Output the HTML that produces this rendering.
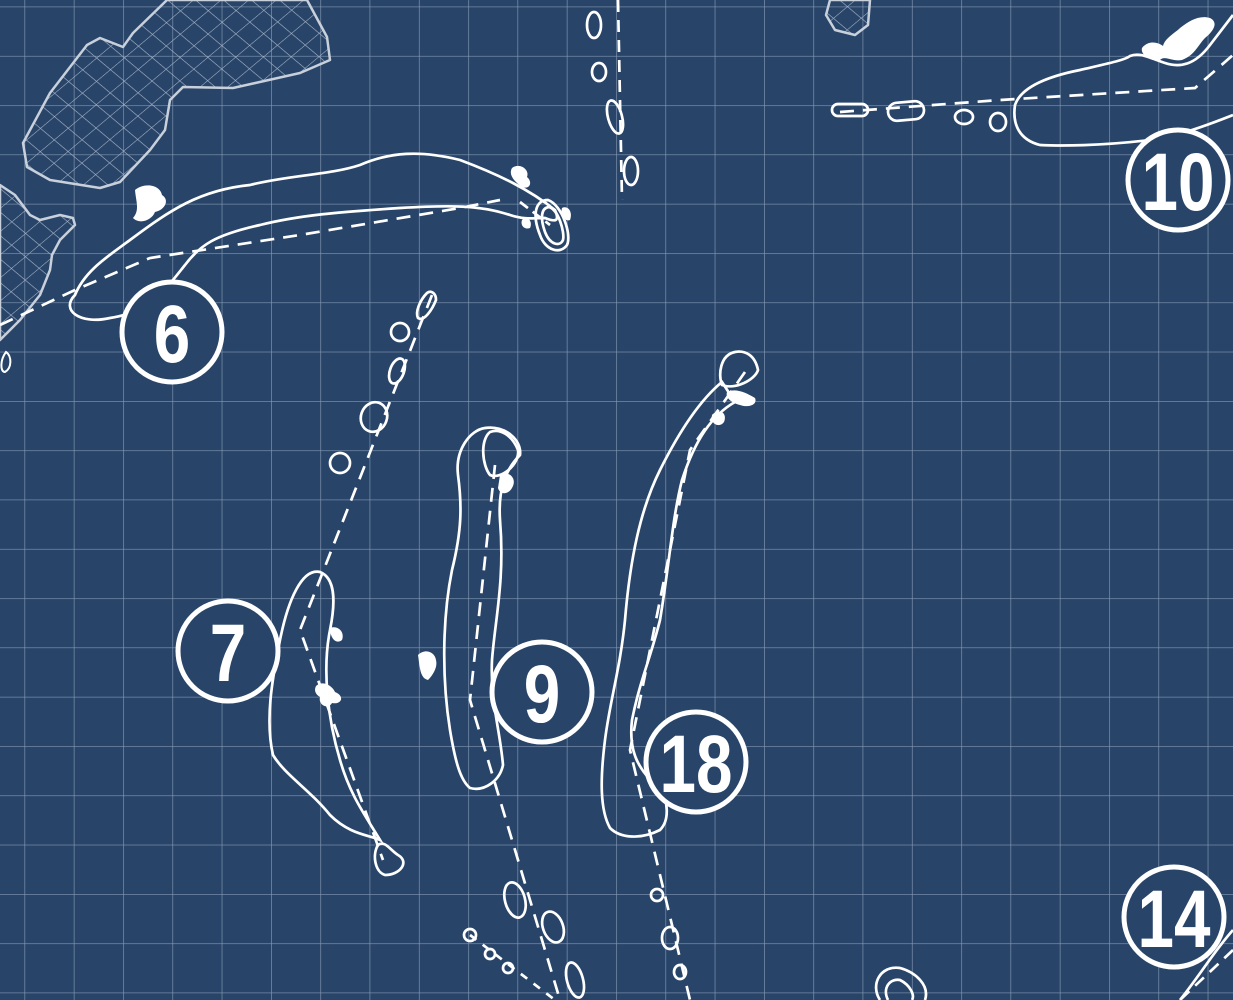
<!DOCTYPE html>
<html><head><style>
html,body{margin:0;padding:0;background:#284468;}
svg{display:block}
.num{font-family:"Liberation Sans Narrow","Liberation Sans",sans-serif;font-weight:bold;fill:#fff;text-anchor:middle}
</style></head><body>
<svg width="1233" height="1000" viewBox="0 0 1233 1000" xmlns="http://www.w3.org/2000/svg">
<defs>
<pattern id="grid" x="24.5" y="6.6" width="49.3" height="49.3" patternUnits="userSpaceOnUse">
<path d="M0 0H49.3M0 0V49.3" stroke="#8498b4" stroke-width="1.3" fill="none"/>
</pattern>
<pattern id="hatch" width="18" height="18" patternUnits="userSpaceOnUse" patternTransform="rotate(40) skewX(-10)">
<path d="M0 0H18M0 0V18" stroke="#a9b8cc" stroke-width="1.1" fill="none"/>
</pattern>
</defs>
<rect width="1233" height="1000" fill="#284468"/>
<rect width="1233" height="1000" fill="url(#grid)"/>

<g stroke="#c8d0dc" stroke-width="2.5" fill="url(#hatch)">
<path d="M167 0 L133 33 L123 47 L100 38 L87 45 L50 93 L23 143 L27 167 L50 180 L100 188 L120 182 L150 150 L165 130 L170 100 L183 87 L233 88 L300 73 L330 60 L327 37 L307 0 Z" stroke-linejoin="round"/>
<path d="M0 185 L15 195 L30 215 L40 220 L60 215 L73 218 L75 225 L60 240 L52 255 L50 270 L40 295 L20 320 L0 340 Z" stroke-linejoin="round"/>
<path d="M830 0 L870 0 L868 25 L855 35 L835 30 L826 15 Z" stroke-linejoin="round"/>
</g>

<g stroke="#fff" stroke-width="2.7" fill="none">
<!-- hole 6 -->
<path d="M75 295 C60 310 80 325 110 318 C150 312 165 290 185 265 C200 245 215 235 260 225 C300 215 340 212 400 208 C450 205 480 205 510 215 C525 220 535 218 545 218 C555 222 560 222 555 210 C530 190 500 175 460 160 C420 150 390 152 360 165 C330 175 290 175 250 185 C200 190 170 210 130 240 C110 255 85 270 75 295 Z"/>
<path d="M548 200 C535 200 532 215 540 235 C545 250 560 255 567 245 C572 235 562 205 548 200 Z"/>
<path d="M549 207 C541 208 540 218 545 232 C550 245 560 247 563 240 C565 232 558 209 549 207 Z"/>
<path d="M0 325 L75 290 L150 258 L300 235 L460 208 L500 200" stroke-dasharray="14 9"/>
<path d="M520 202 L550 225" stroke-dasharray="10 6"/>
<!-- top dashed line -->
<path d="M618 0 L622 200" stroke-dasharray="12 8"/>
<ellipse cx="594" cy="25" rx="7" ry="13"/>
<ellipse cx="599" cy="72" rx="7" ry="9"/>
<ellipse cx="615" cy="117" rx="7" ry="17" transform="rotate(-15 615 117)"/>
<ellipse cx="631" cy="171" rx="7" ry="14"/>
<!-- hole 10 -->
<path d="M1233 115 C1200 128 1180 135 1150 140 C1100 146 1060 146 1040 145 C1020 140 1012 125 1015 105 C1020 90 1040 78 1080 70 C1110 63 1125 60 1130 56 C1140 52 1150 58 1165 63 C1180 68 1195 65 1210 45 L1233 15"/>
<path d="M840 112 L1000 100 L1195 88 L1233 55" stroke-dasharray="14 9"/>
<rect x="832" y="104" width="36" height="12" rx="6"/>
<rect x="888" y="102" width="36" height="18" rx="9" transform="rotate(-5 906 111)"/>
<ellipse cx="964" cy="117" rx="9" ry="7"/>
<ellipse cx="998" cy="122" rx="8" ry="9"/>
<!-- hole 7 -->
<path d="M320 572 C335 578 336 600 330 630 C322 670 328 720 340 760 C350 795 365 815 380 840 C370 835 350 835 330 815 C310 790 285 775 273 755 C265 720 272 680 280 640 C288 600 302 568 320 572 Z"/>
<path d="M378 845 C372 855 375 872 385 875 C400 875 410 862 398 855 C390 850 385 840 378 845 Z"/>
<path d="M432 295 L300 630 L383 860" stroke-dasharray="14 9"/>
<path d="M427 293 C420 300 415 312 418 318 C424 322 432 310 436 300 C436 293 431 290 427 293 Z"/>
<circle cx="400" cy="332" r="9"/>
<ellipse cx="397" cy="371" rx="7" ry="13" transform="rotate(20 397 371)"/>
<ellipse cx="374" cy="417" rx="13" ry="15" transform="rotate(20 374 417)"/>
<circle cx="340" cy="463" r="10"/>
<!-- hole 9 -->
<path d="M485 428 C470 430 455 450 458 475 C462 505 462 530 452 570 C442 620 442 680 450 730 C455 760 460 780 470 788 C485 792 500 780 503 765 C500 730 490 700 492 660 C495 620 505 580 500 520 C498 490 505 470 520 455 C522 440 505 425 485 428 Z"/>
<path d="M490 432 C480 440 482 465 490 475 C500 480 520 465 518 450 C512 435 500 428 490 432 Z"/>
<path d="M495 465 L470 700 L560 1000" stroke-dasharray="14 9"/>
<ellipse cx="515" cy="900" rx="10" ry="18" transform="rotate(-15 515 900)"/>
<ellipse cx="553" cy="927" rx="10" ry="16" transform="rotate(-20 553 927)"/>
<ellipse cx="575" cy="980" rx="8" ry="18" transform="rotate(-15 575 980)"/>
<path d="M470 935 L555 1000" stroke-dasharray="8 8"/>
<circle cx="470" cy="935" r="6"/>
<circle cx="490" cy="954" r="5"/>
<circle cx="508" cy="968" r="5"/>
<!-- hole 18 -->
<path d="M722 382 C700 400 680 430 660 470 C640 510 630 560 625 620 C620 670 610 700 605 740 C600 780 600 810 610 828 C620 838 640 840 660 830 C670 820 668 800 660 790 C640 770 628 755 632 720 C640 680 650 660 660 620 C670 560 672 520 682 480 C695 440 712 415 735 402 Z"/>
<path d="M735 352 C720 355 718 375 722 385 C735 390 755 380 758 370 C755 355 745 350 735 352 Z"/>
<path d="M745 372 L690 450 L660 600 L630 750 L690 1000" stroke-dasharray="14 9"/>
<circle cx="657" cy="895" r="6"/>
<ellipse cx="670" cy="938" rx="8" ry="11"/>
<ellipse cx="680" cy="972" rx="6" ry="7"/>
<!-- 14 -->
<path d="M1233 930 C1215 950 1200 975 1180 1000" />
<path d="M1233 950 L1180 1000" stroke-dasharray="12 8"/>
<path d="M880 1000 C870 985 880 965 900 968 C915 972 930 985 925 1000"/>
<path d="M888 1000 C882 988 890 978 900 980 C910 985 915 995 912 1000"/>
</g>

<!-- bunkers -->
<g fill="#fff">
<path d="M135 190 C145 182 160 185 162 195 C170 200 165 210 155 212 C152 220 140 225 133 218 C140 210 136 202 135 190 Z"/>
<path d="M512 168 C520 162 530 170 527 177 C533 182 530 190 522 187 C515 182 508 175 512 168 Z"/>
<path d="M522 220 C528 215 533 222 530 228 C525 230 520 226 522 220 Z"/>
<path d="M562 208 C568 205 573 212 570 220 C565 222 560 215 562 208 Z"/>
<path d="M1142 48 C1148 40 1158 42 1163 46 C1165 38 1175 33 1180 28 C1190 20 1200 15 1210 18 C1218 22 1215 30 1205 38 C1198 45 1195 55 1182 60 C1172 62 1165 55 1160 60 C1152 62 1140 55 1142 48 Z"/>
<path d="M500 475 C508 470 518 478 512 488 C508 495 500 495 498 488 Z"/>
<path d="M727 392 C735 388 745 392 755 398 C758 405 748 408 740 405 C732 403 725 398 727 392 Z"/>
<path d="M712 415 C718 408 728 412 724 422 C720 428 710 425 712 415 Z"/>
<path d="M330 628 C338 625 345 632 342 640 C336 645 330 638 330 628 Z"/>
<path d="M316 686 C322 680 332 685 335 692 C345 696 342 705 332 703 C328 710 318 705 320 697 C315 694 314 690 316 686 Z"/>
<path d="M418 655 C425 648 435 652 436 660 C438 668 432 676 428 680 C420 678 420 668 418 655 Z"/>
<path d="M6 352 C0 360 0 372 5 372 C12 368 12 356 6 352 Z" fill="none" stroke="#fff" stroke-width="2"/>
</g>

<!-- number circles -->
<g stroke="#fff" stroke-width="5" fill="#284468">
<circle cx="172" cy="332" r="50"/>
<circle cx="1178" cy="180" r="50"/>
<circle cx="228" cy="651" r="50"/>
<circle cx="542" cy="692" r="50"/>
<circle cx="696" cy="762" r="50"/>
<circle cx="1174" cy="917" r="50"/>
</g>
<g class="num" font-size="82">
<text x="172" y="362" transform="translate(172 0) scale(0.8 1) translate(-172 0)">6</text>
<text x="1178" y="210" transform="translate(1178 0) scale(0.8 1) translate(-1178 0)">10</text>
<text x="228" y="681" transform="translate(228 0) scale(0.8 1) translate(-228 0)">7</text>
<text x="542" y="722" transform="translate(542 0) scale(0.8 1) translate(-542 0)">9</text>
<text x="696" y="792" transform="translate(696 0) scale(0.8 1) translate(-696 0)">18</text>
<text x="1174" y="947" transform="translate(1174 0) scale(0.8 1) translate(-1174 0)">14</text>
</g>
</svg>
</body></html>
